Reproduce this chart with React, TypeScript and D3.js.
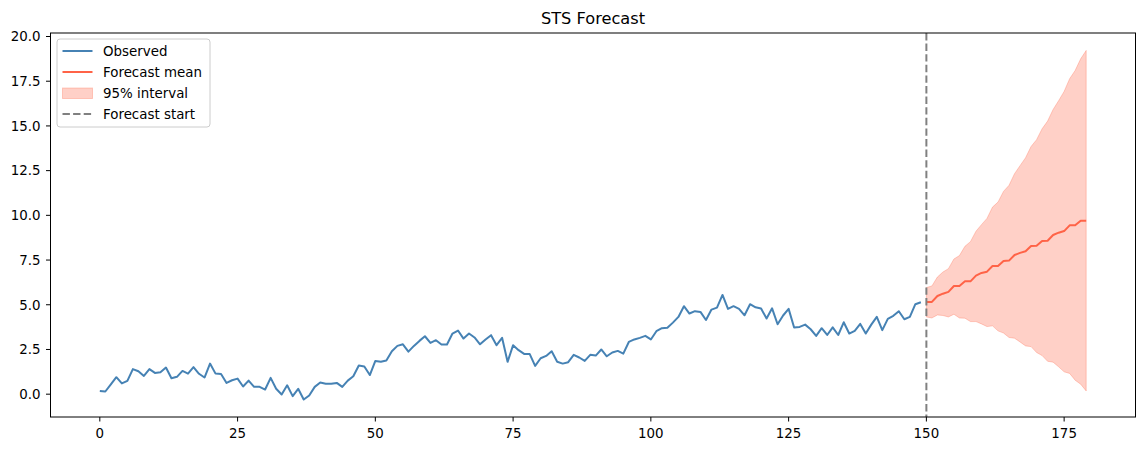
import React from "react";
import * as d3 from "d3";

const observed: number[] = [
  0.18, 0.15, 0.55, 0.95, 0.6, 0.74, 1.4, 1.28, 1.02, 1.4,
  1.19, 1.23, 1.49, 0.89, 0.97, 1.3, 1.15, 1.51, 1.14, 0.93,
  1.71, 1.15, 1.13, 0.63, 0.78, 0.87, 0.43, 0.76, 0.41, 0.41,
  0.26, 0.91, 0.3, -0.02, 0.5, -0.11, 0.3, -0.3, -0.07, 0.41,
  0.65, 0.58, 0.58, 0.63, 0.41, 0.76, 1.0, 1.6, 1.55, 1.07,
  1.86, 1.81, 1.88, 2.4, 2.7, 2.79, 2.38, 2.7, 2.98, 3.24,
  2.87, 3.02, 2.78, 2.78, 3.39, 3.56, 3.11, 3.39, 3.17, 2.79,
  3.06, 3.3, 2.74, 3.15, 1.81, 2.74, 2.46, 2.25, 2.25, 1.58,
  2.01, 2.14, 2.4, 1.81, 1.71, 1.79, 2.2, 2.05, 1.86, 2.2,
  2.16, 2.5, 2.12, 2.33, 2.42, 2.27, 2.92, 3.06, 3.15, 3.26,
  3.06, 3.52, 3.69, 3.71, 4.0, 4.32, 4.92, 4.51, 4.64, 4.6,
  4.15, 4.73, 4.84, 5.55, 4.77, 4.92, 4.77, 4.41, 5.03, 4.86,
  4.79, 4.23, 4.8, 3.91, 4.4, 4.77, 3.73, 3.76, 3.89, 3.63,
  3.26, 3.69, 3.31, 3.74, 3.31, 4.02, 3.39, 3.54, 3.93, 3.39,
  3.89, 4.32, 3.58, 4.21, 4.38, 4.64, 4.19, 4.32, 5.03, 5.14,
];

const forecastStart = 150;

const forecastMean: number[] = [
  5.16, 5.16, 5.49, 5.62, 5.72, 6.05, 6.05, 6.31, 6.31, 6.63,
  6.78, 6.85, 7.17, 7.17, 7.45, 7.47, 7.78, 7.9, 7.99, 8.29,
  8.3, 8.57, 8.58, 8.9, 9.03, 9.12, 9.44, 9.44, 9.7, 9.7,
];

const upper95: number[] = [
  5.96, 6.05, 6.55, 6.83, 7.02, 7.56, 7.75, 8.27, 8.53, 9.11,
  9.48, 9.83, 10.46, 10.74, 11.34, 11.68, 12.33, 12.78, 13.22, 13.85,
  14.23, 14.84, 15.27, 15.92, 16.41, 16.93, 17.64, 18.1, 18.75, 19.22,
];

const lower95: number[] = [
  4.32, 4.26, 4.43, 4.4, 4.32, 4.47, 4.26, 4.25, 4.06, 4.06,
  3.93, 3.78, 3.82, 3.54, 3.42, 3.17, 3.13, 2.92, 2.7, 2.66,
  2.33, 2.16, 1.84, 1.79, 1.53, 1.25, 1.16, 0.78, 0.56, 0.18,
];

const xTicks: number[] = [0, 25, 50, 75, 100, 125, 150, 175];
const yTicks: number[] = [0, 2.5, 5, 7.5, 10, 12.5, 15, 17.5, 20];

const legendItems = ["Observed", "Forecast mean", "95% interval", "Forecast start"];

const W = 1145;
const H = 451;
const M = { left: 50.5, right: 1135.5, top: 33, bottom: 417 };
const FONT = "'DejaVu Sans', sans-serif";

export default function App() {
  const obsPts = observed.map((v, i) => ({ x: i, y: v }));
  const fcPts = forecastMean.map((v, i) => ({ x: forecastStart + i, y: v, lo: lower95[i], hi: upper95[i] }));

  const xMin = 0;
  const xMax = forecastStart + forecastMean.length - 1;
  const xPad = (xMax - xMin) * 0.05;
  const yMin = Math.min(d3.min(observed)!, d3.min(lower95)!);
  const yMax = Math.max(d3.max(observed)!, d3.max(upper95)!);
  const yPad = (yMax - yMin) * 0.05;

  const x = d3.scaleLinear().domain([xMin - xPad, xMax + xPad]).range([M.left, M.right]);
  const y = d3.scaleLinear().domain([yMin - yPad, yMax + yPad]).range([M.bottom, M.top]);

  const line = d3.line<{ x: number; y: number }>().x((d) => x(d.x)).y((d) => y(d.y));
  const area = d3
    .area<{ x: number; lo: number; hi: number }>()
    .x((d) => x(d.x))
    .y0((d) => y(d.lo))
    .y1((d) => y(d.hi));

  const blue = "#4682b4";
  const tomato = "#ff6347";

  const lx = M.left + 6.5;
  const ly = M.top + 6;
  const rowH = 21;

  return (
    <svg
      width={W}
      height={H}
      style={{ position: "fixed", left: 0, top: 0, background: "#fff" }}
      fontFamily={FONT}
    >
      <rect x={0} y={0} width={W} height={H} fill="#fff" />
      <text x={(M.left + M.right) / 2} y={24} textAnchor="middle" fontSize={16.2} fill="#000">
        STS Forecast
      </text>

      <path d={area(fcPts) || ""} fill={tomato} fillOpacity={0.3} stroke={tomato} strokeOpacity={0.3} strokeWidth={1} />
      <path d={line(obsPts) || ""} fill="none" stroke={blue} strokeWidth={2} strokeLinejoin="round" />
      <path d={line(fcPts) || ""} fill="none" stroke={tomato} strokeWidth={2} strokeLinejoin="round" />
      <line
        x1={x(forecastStart)}
        x2={x(forecastStart)}
        y1={M.top}
        y2={M.bottom}
        stroke="#808080"
        strokeWidth={2}
        strokeDasharray="7.4,3.2"
      />

      <rect
        x={M.left}
        y={M.top}
        width={M.right - M.left}
        height={M.bottom - M.top}
        fill="none"
        stroke="#000"
        strokeWidth={1}
      />

      {xTicks.map((t) => (
        <g key={"x" + t}>
          <line x1={x(t)} x2={x(t)} y1={M.bottom} y2={M.bottom + 4.5} stroke="#000" strokeWidth={1} />
          <text x={x(t)} y={437.5} textAnchor="middle" fontSize={13.4} fill="#000">
            {t}
          </text>
        </g>
      ))}
      {yTicks.map((t) => (
        <g key={"y" + t}>
          <line x1={M.left - 4.5} x2={M.left} y1={y(t)} y2={y(t)} stroke="#000" strokeWidth={1} />
          <text x={40.5} y={y(t) + 4.8} textAnchor="end" fontSize={13.4} fill="#000">
            {t.toFixed(1)}
          </text>
        </g>
      ))}

      <g>
        <rect
          x={lx}
          y={ly}
          width={153}
          height={88}
          rx={3}
          fill="#fff"
          fillOpacity={0.8}
          stroke="#cccccc"
          strokeWidth={1}
        />
        {legendItems.map((label, i) => {
          const cy = ly + 12 + i * rowH;
          let handle: React.ReactNode = null;
          if (i === 0) handle = <line x1={lx + 5.5} x2={lx + 35.5} y1={cy} y2={cy} stroke={blue} strokeWidth={2} />;
          else if (i === 1) handle = <line x1={lx + 5.5} x2={lx + 35.5} y1={cy} y2={cy} stroke={tomato} strokeWidth={2} />;
          else if (i === 2)
            handle = (
              <rect x={lx + 5.5} y={cy - 5} width={30} height={10.5} fill={tomato} fillOpacity={0.3} stroke={tomato} strokeOpacity={0.3} />
            );
          else
            handle = (
              <line x1={lx + 5.5} x2={lx + 35.5} y1={cy} y2={cy} stroke="#808080" strokeWidth={2} strokeDasharray="7.4,3.2" />
            );
          return (
            <g key={label}>
              {handle}
              <text x={lx + 46} y={cy + 4.8} fontSize={13.4} fill="#000">
                {label}
              </text>
            </g>
          );
        })}
      </g>
    </svg>
  );
}
